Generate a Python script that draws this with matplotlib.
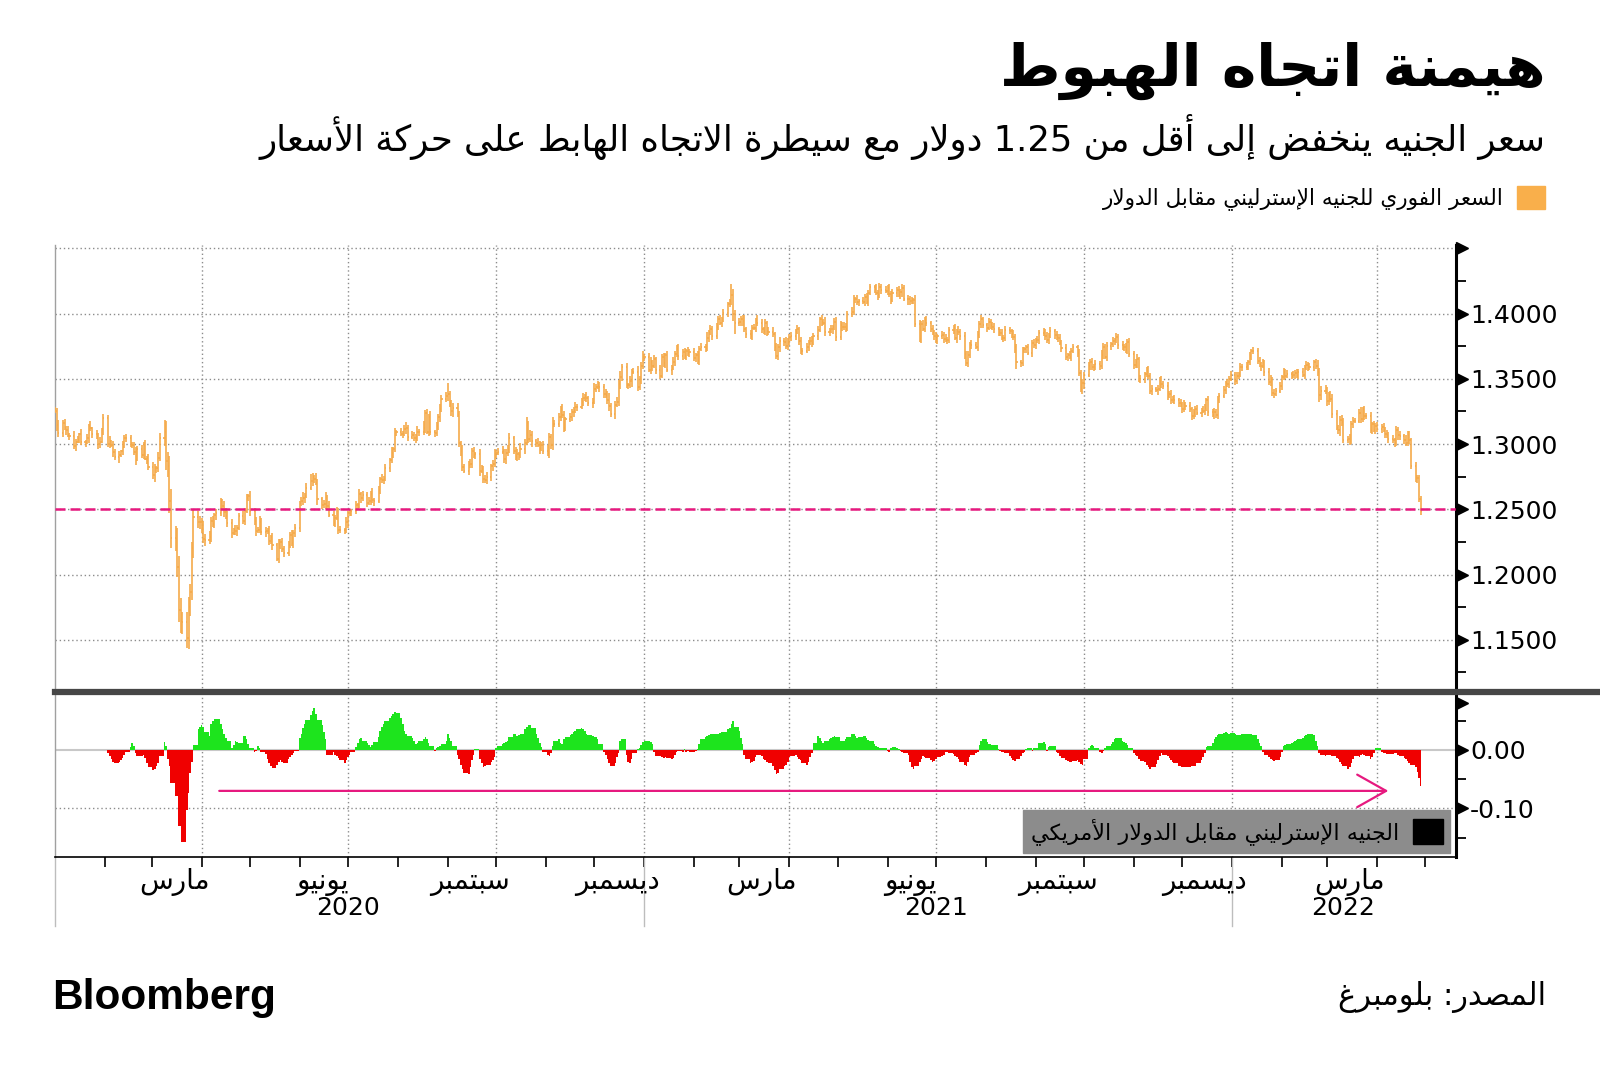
import re
import numpy as np
import pandas as pd
import matplotlib
matplotlib.use('Agg')
import matplotlib.pyplot as plt
import matplotlib.dates as mdates
import matplotlib.transforms as mtransforms
from matplotlib.collections import LineCollection
from matplotlib.lines import Line2D
from matplotlib.patches import Patch
from matplotlib.ticker import FormatStrFormatter

plt.rcParams['font.family'] = ['DejaVu Sans']
plt.rcParams['axes.unicode_minus'] = False

# ------------------------------------------------------------------ texts
TITLE = 'هيمنة اتجاه الهبوط'
SUBTITLE = 'سعر الجنيه ينخفض إلى أقل من 1.25 دولار مع سيطرة الاتجاه الهابط على حركة الأسعار'
LEGEND_TOP = 'السعر الفوري للجنيه الإسترليني مقابل الدولار'
LEGEND_BOTTOM = 'الجنيه الإسترليني مقابل الدولار الأمريكي'
SOURCE = 'المصدر: بلومبرغ'
BRAND = 'Bloomberg'

MONTH_LABEL_DATES = ['2020-03-15', '2020-06-15', '2020-09-15', '2020-12-15',
                     '2021-03-15', '2021-06-15', '2021-09-15', '2021-12-15', '2022-03-15']
MONTH_LABELS = ['مارس', 'يونيو', 'سبتمبر', 'ديسمبر',
                'مارس', 'يونيو', 'سبتمبر', 'ديسمبر', 'مارس']
YEAR_LABEL_DATES = ['2020-07-01', '2021-07-01', '2022-03-11']
YEAR_LABELS = ['2020', '2021', '2022']

PRICE_TICKS = [1.15, 1.20, 1.25, 1.30, 1.35, 1.40]
HIST_TICKS = [0.00, -0.10]
THRESHOLD = 1.25

# ------------------------------------------------------------------ data
# daily GBP/USD closes, in pips above 1.0000 (business days from 2020-01-01)
CLOSE_PIPS = [
    # 2020 Jan
    3255, 3143, 3085, 3161, 3125, 3107, 3066, 3062, 2985, 3018, 3035, 3075, 3013,
    3008, 3048, 3136, 3122, 3075, 3061, 3000, 3015, 3112, 3203,
    # Feb
    3000, 3020, 2990, 2940, 2898, 2917, 2945, 2980, 3046, 3047,
    3004, 2989, 2938, 2880, 2962, 2916, 2994, 2885, 2892, 2823,
    # Mar
    2760, 2815, 2815, 2890, 3045, 3095, 2870, 2830, 2565, 2280, 2270,
    2060, 1730, 1645, 1635, 1510, 1755, 1865, 2200, 2440, 2400, 2405,
    # Apr
    2360, 2270, 2265, 2290, 2410, 2385, 2455, 2470, 2560, 2525, 2480,
    2445, 2395, 2320, 2340, 2335, 2360, 2445, 2410, 2490, 2590, 2600,
    # May
    2490, 2410, 2335, 2345, 2405, 2325, 2335, 2330, 2255, 2285, 2225,
    2120, 2235, 2250, 2195, 2165, 2230, 2305, 2240, 2320, 2355,
    # Jun
    2545, 2565, 2590, 2605, 2665, 2720, 2745, 2735, 2705, 2575, 2530,
    2540, 2590, 2525, 2460, 2395, 2435, 2490, 2340, 2340, 2340, 2400,
    # Jul
    2470, 2475, 2485, 2530, 2530, 2615, 2590, 2610, 2550, 2565, 2620, 2570,
    2565, 2645, 2730, 2725, 2735, 2815, 2875, 2935, 2960, 3090, 3090,
    # Aug
    3080, 3080, 3115, 3125, 3055, 3070, 3050, 3045, 3095, 3090, 3125,
    3240, 3095, 3210, 3090, 3085, 3140, 3210, 3265, 3345, 3370,
    # Sep
    3380, 3315, 3255, 3275, 3225, 3005, 2945, 2825, 2795, 2840, 2845,
    2950, 2915, 2920, 2795, 2810, 2730, 2725, 2745, 2830, 2845, 2920,
    # Oct
    2935, 2940, 2945, 2885, 2930, 2960, 3045, 2950, 2900, 2920, 2915,
    2965, 3010, 3160, 3035, 3070, 3020, 3005, 2995, 2965, 2995, 2950,
    # Nov
    2930, 3055, 2995, 3155, 3150, 3205, 3270, 3220, 3120, 3190, 3205,
    3245, 3255, 3280, 3285, 3325, 3350, 3365, 3350, 3315, 3325,
    # Dec
    3425, 3440, 3445, 3440, 3385, 3375, 3340, 3295, 3230, 3300, 3320, 3460,
    3510, 3590, 3450, 3450, 3480, 3555, 3555, 3435, 3500, 3595, 3670,
    # 2021 Jan
    3670, 3570, 3625, 3600, 3650, 3565, 3525, 3670, 3620, 3680, 3570,
    3585, 3630, 3690, 3730, 3675, 3705, 3675, 3710, 3695, 3705,
    # Feb
    3660, 3680, 3635, 3730, 3745, 3735, 3815, 3855, 3885, 3825,
    3900, 3960, 3930, 3955, 4005, 4070, 4095, 4145, 3995, 3925,
    # Mar
    3935, 3960, 3945, 3880, 3840, 3825, 3890, 3890, 3945, 3925, 3880, 3865,
    3925, 3865, 3855, 3840, 3745, 3675, 3745, 3790, 3780, 3750, 3780,
    # Apr
    3820, 3830, 3860, 3880, 3790, 3710, 3715, 3745, 3775, 3790, 3775,
    3830, 3875, 3955, 3935, 3930, 3860, 3870, 3885, 3895, 3935, 3820,
    # May
    3915, 3895, 3895, 3885, 4000, 4010, 4110, 4110, 4085, 4095, 4090,
    4130, 4090, 4160, 4200, 4190, 4160, 4140, 4205, 4180, 4175,
    # Jun
    4195, 4150, 4105, 4155, 4180, 4145, 4165, 4195, 4115, 4115, 4095,
    4100, 4100, 3920, 3805, 3920, 3885, 3950, 3925, 3885, 3855, 3830,
    # Jul
    3795, 3825, 3835, 3805, 3800, 3795, 3870, 3890, 3815, 3865, 3855,
    3830, 3690, 3620, 3680, 3765, 3760, 3745, 3835, 3920, 3955, 3910,
    # Aug
    3890, 3935, 3915, 3895, 3880, 3860, 3850, 3815, 3810, 3875, 3865,
    3845, 3820, 3740, 3625, 3620, 3715, 3725, 3740, 3700, 3775, 3755,
    # Sep
    3795, 3795, 3850, 3860, 3825, 3795, 3830, 3865, 3835, 3820, 3810,
    3775, 3735, 3665, 3680, 3670, 3715, 3740, 3700, 3545, 3425, 3470,
    # Oct
    3530, 3600, 3630, 3590, 3590, 3615, 3595, 3680, 3745, 3670, 3750,
    3765, 3790, 3795, 3820, 3760, 3740, 3745, 3720, 3785, 3690,
    # Nov
    3605, 3625, 3650, 3495, 3500, 3535, 3560, 3525, 3405, 3420, 3415,
    3425, 3490, 3460, 3445, 3370, 3385, 3335, 3345, 3335, 3315, 3305,
    # Dec
    3265, 3305, 3290, 3265, 3215, 3235, 3270, 3240, 3255, 3255, 3275, 3335,
    3245, 3225, 3245, 3220, 3335, 3370, 3415, 3465, 3460, 3500, 3530,
    # 2022 Jan
    3480, 3525, 3535, 3590, 3590, 3595, 3625, 3675, 3710, 3715, 3640,
    3610, 3600, 3625, 3555, 3475, 3490, 3390, 3385, 3410, 3445,
    # Feb
    3510, 3555, 3525, 3535, 3525, 3530, 3545, 3525, 3555, 3530,
    3585, 3605, 3590, 3590, 3625, 3595, 3550, 3375, 3405, 3410,
    # Mar
    3330, 3375, 3345, 3230, 3125, 3105, 3185, 3170, 3030, 3035, 3020, 3155,
    3180, 3180, 3240, 3190, 3265, 3215, 3215, 3105, 3150, 3110, 3140,
    # Apr
    3115, 3130, 3110, 3080, 3070, 3040, 3030, 3005, 3110, 3070,
    3060, 3030, 3005, 3070, 3030, 2835, 2740, 2740, 2575, 2490,
]

# daily wick above max(open, close) and below min(open, close), in 10-pip units (one digit per day)
UP_WICK_10PIPS = """
324
23132 42314 23241 32413 24132 31423 21342 32423 43254 98789
99897 87656 54354 43423 32434 32423 42324 23243 32423 24232
32423 23424 53243 23424 32323 24232 32423 23242 32423 24232
32342 32342 52324 23243 39324 43252 34232 43234 23423 42334
23424 35243 24323 43253 32432 32342 34232 34243 24352 34352
32423 42342 34232 42323 24234 23232 32323 24232 32323 22843
32342 32324 32323 42323 24323 23232 32342 32324 23234 32432
43232 32323 24232 32323 23232 32324 32323 23232 32423 23243
32323 23232 23223 22323 22323 23223 23232 32323 23232 32323
23232 32323 24323 23232 32323 23423 23423 23232 32323 23232
32323 24323 23232 32323 23232 32323 23232 34232 32323 23232
32323 23534 43234 32343 34232 34232 32323 23232 32323 24332
3223
"""
DN_WICK_10PIPS = """
243
32413 24132 31423 24314 23142 42313 32241 23142 35432 67898
98999 78767 45435 34234 23423 42342 23234 34232 42324 23423
23243 32342 24324 32432 23232 32423 23243 32324 23232 32423
23243 23423 24232 32342 24345 23432 32323 42323 34232 23423
32342 42324 32423 24342 23232 23423 23232 42324 32342 42343
23242 32423 23423 32342 42323 32323 23232 32323 23232 32358
23423 23232 32342 23234 32323 32323 23232 32323 32423 23232
32323 23232 32423 23232 32342 53232 23232 32323 23232 32423
42323 23232 32323 32232 23245 32232 32323 23232 32323 23232
32345 23232 32323 32323 23232 32423 32323 24232 32323 32323
23232 32323 23232 23232 32323 23232 32423 23232 23232 32323
23232 32354 24323 23432 23232 23232 23232 32323 23243 32233
3423
"""

# lower-panel histogram, in thousandths (business days from 2020-02-03)
HIST_MILLI = [
    # 2020 Feb
    -5, -10, -15, -20, -22, -20, -17, -13, -8, -3, 5, 11, 6, -6, -10, -10, -8, -14, -22, -30,
    # Mar
    -35, -32, -28, -22, -10, 14, 6, -15, -27, -56, -79, -79, -130, -130, -158,
    -103, -73, -40, -20, 8, 35, 40,
    # Apr
    42, 40, 30, 24, 44, 50, 53, 53, 45, 35, 27, 20, 15, 4, 8, 15, 14, 12, 24, 24, 18, 10,
    # May
    4, -3, -2, 6, 4, -3, -7, -15, -22, -28, -31, -25, -20, -18, -20, -23, -15, -12, -8, -5, -2,
    # Jun
    20, 28, 38, 45, 52, 60, 66, 71, 62, 52, 42, 30, 18, -8, -8, -3, -8, -10, -14, -18, -23, -18,
    # Jul
    -12, -8, -4, 5, 12, 18, 20, 15, 12, 8, 5, 8, 14, 22, 33, 40, 45, 50, 55, 58, 62, 65, 63,
    # Aug
    55, 45, 33, 28, 24, 21, 15, 10, 12, 16, 18, 22, 18, 12, 6, -1, 4, 5, 6, 10, 15,
    # Sep
    27, 21, 15, 6, -8, -15, -25, -33, -40, -42, -30, -18, -8, 2, -15, -22, -29, -28, -25, -20, -18, -12,
    # Oct
    3, 6, 10, 11, 13, 16, 22, 28, 27, 24, 25, 28, 35, 40, 43, 42, 38, 28, 20, 12, 5, -4,
    # Nov
    -8, -10, -5, 6, 15, 18, 12, 10, 18, 22, 25, 27, 30, 33, 36, 38, 36, 32, 28, 26, 24,
    # Dec
    22, 22, 18, 10, -3, -8, -15, -22, -27, -22, -12, -5, 15, 18, -8, -20, -22, -15, -5, 2, 4, 8, 14,
    # 2021 Jan
    16, 16, 14, 10, -4, -10, -10, -12, -13, -12, -14, -16, -14, -8, -3, -2, -3, 2, -3, -2, -4,
    # Feb
    -3, -2, 2, 10, 18, 22, 24, 26, 27, 28, 28, 28, 29, 30, 31, 35, 38, 44, 49, 40,
    # Mar
    33, 20, 10, -8, -15, -22, -20, -19, -12, -8, -10, -15, -18, -20, -22, -28, -35, -42, -40, -33, -28, -25, -20,
    # Apr
    -12, -10, -8, -12, -16, -18, -22, -25, -20, -12, -5, 12, 24, 20, 15, 12, 15, 18, 21, 22, 24, 22,
    # May
    16, 15, 15, 18, 22, 28, 27, 24, 21, 22, 24, 23, 20, 17, 15, 10, 7, 5, 4, 4, 3,
    # Jun
    -2, -3, 3, 5, 3, 1, -2, -3, -5, -8, -20, -30, -33, -28, -20, -15, -10, -12, -14, -18, -20, -19,
    # Jul
    -15, -12, -10, -8, -4, -3, -5, -7, -10, -12, -15, -20, -25, -27, -20, -12, -8, -6, -3, 8, 15, 18,
    # Aug
    14, 10, 10, 8, 8, 2, -2, -3, -3, -6, -10, -14, -17, -19, -16, -10, -6, -3, 2, 3, -1, 4,
    # Sep
    3, 4, 12, 14, 10, -1, 5, 7, 6, -3, -6, -10, -14, -18, -19, -20, -21, -19, -18, -20, -24, -25,
    # Oct
    -15, 4, 7, 8, 6, 4, -3, -5, -2, 3, 6, 10, 14, 18, 20, 21, 15, 13, 11, 8, 4,
    # Nov
    -5, -8, -11, -16, -19, -20, -25, -30, -33, -30, -24, -18, -10, -6, -8, -10, -14, -17, -20, -23, -27, -28,
    # Dec
    -30, -30, -30, -30, -28, -28, -27, -22, -18, -12, -5, 5, 6, 12, 18, 22, 25, 27, 29, 30, 29, 28, 29,
    # 2022 Jan
    27, 25, 26, 26, 28, 27, 28, 28, 27, 26, 18, 12, 7, -4, -8, -12, -15, -17, -19, -17, -12,
    # Feb
    -4, 6, 8, 10, 12, 13, 15, 17, 18, 21, 23, 25, 27, 28, 25, 15, 6, -6, -8, -10,
    # Mar
    -8, -9, -8, -10, -14, -16, -20, -24, -27, -33, -29, -22, -15, -10, -12, -8, -7, -9, -11, -16, -12, -6, 3,
    # Apr
    4, -3, -5, -6, -7, -7, -7, -5, -6, -9, -10, -13, -15, -19, -22, -26, -30, -38, -48, -62,
]

# ------------------------------------------------------------------ Arabic shaping (presentation forms + visual order)
_FORM_SPEC = [('\u0621', 0xFE80, 1), ('\u0622', 0xFE81, 2), ('\u0623', 0xFE83, 2), ('\u0624', 0xFE85, 2),
              ('\u0625', 0xFE87, 2), ('\u0626', 0xFE89, 4), ('\u0627', 0xFE8D, 2), ('\u0628', 0xFE8F, 4),
              ('\u0629', 0xFE93, 2), ('\u062A', 0xFE95, 4), ('\u062B', 0xFE99, 4), ('\u062C', 0xFE9D, 4),
              ('\u062D', 0xFEA1, 4), ('\u062E', 0xFEA5, 4), ('\u062F', 0xFEA9, 2), ('\u0630', 0xFEAB, 2),
              ('\u0631', 0xFEAD, 2), ('\u0632', 0xFEAF, 2), ('\u0633', 0xFEB1, 4), ('\u0634', 0xFEB5, 4),
              ('\u0635', 0xFEB9, 4), ('\u0636', 0xFEBD, 4), ('\u0637', 0xFEC1, 4), ('\u0638', 0xFEC5, 4),
              ('\u0639', 0xFEC9, 4), ('\u063A', 0xFECD, 4), ('\u0641', 0xFED1, 4), ('\u0642', 0xFED5, 4),
              ('\u0643', 0xFED9, 4), ('\u0644', 0xFEDD, 4), ('\u0645', 0xFEE1, 4), ('\u0646', 0xFEE5, 4),
              ('\u0647', 0xFEE9, 4), ('\u0648', 0xFEED, 2), ('\u0649', 0xFEEF, 2), ('\u064A', 0xFEF1, 4)]
_FORMS = {c: (b, k) for c, b, k in _FORM_SPEC}
_LAMALEF = {'\u0622': 0xFEF5, '\u0623': 0xFEF7, '\u0625': 0xFEF9, '\u0627': 0xFEFB}


def _shape(s):
    out, i, n = [], 0, len(s)
    while i < n:
        c = s[i]
        if c not in _FORMS:
            out.append(c)
            i += 1
            continue
        p = s[i - 1] if i > 0 else ''
        jp = p in _FORMS and _FORMS[p][1] == 4
        if c == '\u0644' and i + 1 < n and s[i + 1] in _LAMALEF:
            out.append(chr(_LAMALEF[s[i + 1]] + (1 if jp else 0)))
            i += 2
            continue
        base, k = _FORMS[c]
        if k == 1:
            jp = False
        nx = s[i + 1] if i + 1 < n else ''
        jn = k == 4 and nx in _FORMS and _FORMS[nx][1] >= 2
        idx = 3 if (jp and jn) else 1 if jp else 2 if jn else 0
        out.append(chr(base + idx))
        i += 1
    return ''.join(out)


def ar(s):
    t = _shape(s)
    parts = re.findall(r'[0-9A-Za-z]+(?:[.,][0-9A-Za-z]+)*|.', t)
    return ''.join(reversed(parts))


# ------------------------------------------------------------------ prepare series
close = 1.0 + np.array(CLOSE_PIPS, dtype=float) / 1e4
up = np.array([int(ch) for ch in UP_WICK_10PIPS if ch.isdigit()], dtype=float) * 10 / 1e4
dn = np.array([int(ch) for ch in DN_WICK_10PIPS if ch.isdigit()], dtype=float) * 10 / 1e4
n = min(len(close), len(up), len(dn))
close, up, dn = close[:n], up[:n], dn[:n]
dates = pd.bdate_range('2020-01-01', periods=n)
x = mdates.date2num(dates)
opens = np.r_[close[0], close[:-1]]
highs = np.maximum(opens, close) + up
lows = np.minimum(opens, close) - dn

hist = np.array(HIST_MILLI, dtype=float) / 1000.0
hx = mdates.date2num(pd.bdate_range('2020-02-03', periods=len(hist)))

# ------------------------------------------------------------------ figure
W, H = 1600, 1080
fig = plt.figure(figsize=(16, 10.8), dpi=100)
fig.patch.set_facecolor('white')

L, R = 55, 1456
T1, B1, B2 = 245, 692, 857
ax1 = fig.add_axes([L / W, 1 - B1 / H, (R - L) / W, (B1 - T1) / H])
ax2 = fig.add_axes([L / W, 1 - B2 / H, (R - L) / W, (B2 - B1) / H])

ORANGE = '#F5AA4A'
GREEN = '#1DE41D'
RED = '#F00000'
PINK = '#E6197F'
GRIDC = '#8c8c8c'

xmin, xmax = mdates.date2num(pd.Timestamp('2020-01-01')), mdates.date2num(pd.Timestamp('2022-05-20'))
quarters = mdates.date2num(pd.date_range('2020-04-01', '2022-04-01', freq='QS'))
months = mdates.date2num(pd.date_range('2020-02-01', '2022-05-01', freq='MS'))

# ---- top panel: OHLC bars
segs = []
for xi, o, h, l, c in zip(x, opens, highs, lows, close):
    segs.append([(xi, l), (xi, h)])
    segs.append([(xi - 0.7, o), (xi, o)])
    segs.append([(xi, c), (xi + 0.7, c)])
ax1.add_collection(LineCollection(segs, colors=ORANGE, linewidths=1.2, zorder=3))
ax1.set_xlim(xmin, xmax)
ax1.set_ylim(1.110, 1.4525)
for q in quarters:
    ax1.axvline(q, color=GRIDC, lw=1.0, ls=(0, (1, 2)), zorder=1)
for yv in PRICE_TICKS + [1.45]:
    ax1.axhline(yv, color=GRIDC, lw=1.0, ls=(0, (1, 2)), zorder=1)
ax1.axhline(THRESHOLD, color=PINK, lw=1.8, ls=(0, (4, 2)), zorder=4)

# ---- bottom panel: histogram
widths = np.r_[np.diff(hx), 1.0]
bar_colors = [GREEN if v >= 0 else RED for v in hist]
ax2.bar(hx - 0.5, hist, width=widths, align='edge', color=bar_colors, linewidth=0, zorder=3)
ax2.axhline(0, color='#c8c8c8', lw=1.5, zorder=2)
ax2.axhline(-0.10, color=GRIDC, lw=1.0, ls=(0, (1, 2)), zorder=1)
for q in quarters:
    ax2.axvline(q, color=GRIDC, lw=1.0, ls=(0, (1, 2)), zorder=1)
ax2.set_xlim(xmin, xmax)
ax2.set_ylim(-0.183, 0.099)
ax2.annotate('', xy=(mdates.date2num(pd.Timestamp('2022-04-08')), -0.07),
             xytext=(mdates.date2num(pd.Timestamp('2020-04-12')), -0.07),
             arrowprops=dict(arrowstyle='->,head_length=0.8,head_width=0.45', color=PINK, lw=1.6,
                             mutation_scale=26, shrinkA=0, shrinkB=0), zorder=5)

# ---- spines and ticks
for ax in (ax1, ax2):
    ax.set_facecolor('white')
    ax.spines['top'].set_visible(False)
    ax.spines['left'].set_color('#a0a0a0')
    ax.spines['left'].set_linewidth(1.0)
    ax.spines['right'].set_color('black')
    ax.spines['right'].set_linewidth(2.2)
    ax.yaxis.set_ticks_position('right')
ax1.spines['bottom'].set_visible(False)
ax2.spines['bottom'].set_color('black')
ax2.spines['bottom'].set_linewidth(1.2)

ax1.set_yticks(PRICE_TICKS)
ax1.set_yticks([1.125, 1.175, 1.225, 1.275, 1.325, 1.375, 1.425], minor=True)
ax1.yaxis.set_major_formatter(FormatStrFormatter('%.4f'))
ax1.set_xticks([])
ax2.set_yticks(HIST_TICKS)
ax2.set_yticks([0.05, -0.05, -0.15], minor=True)
ax2.yaxis.set_major_formatter(FormatStrFormatter('%.2f'))
ax2.set_xticks(months)
ax2.set_xticklabels([])
for ax in (ax1, ax2):
    ax.tick_params(axis='y', which='major', length=0, pad=10, labelsize=18, labelcolor='black')
    ax.tick_params(axis='y', which='minor', length=7, width=1.3, color='black', direction='out')
ax2.tick_params(axis='x', which='major', length=7, width=1.2, color='black', direction='out')

# arrow-shaped major tick markers
for ax, ys in ((ax1, PRICE_TICKS + [1.45]), (ax2, HIST_TICKS + [0.08])):
    tr = mtransforms.offset_copy(mtransforms.blended_transform_factory(ax.transAxes, ax.transData),
                                 fig=fig, x=6, y=0, units='dots')
    ax.plot([1.0] * len(ys), ys, ls='none', marker='>', ms=8, color='black',
            transform=tr, clip_on=False, zorder=6)

# separator bar between panels
fig.add_artist(Line2D([L / W, 1.0], [1 - B1 / H, 1 - B1 / H], color='#464646', lw=4.5, zorder=10))

# x labels
lab_tr = mtransforms.blended_transform_factory(ax2.transData, ax2.transAxes)
for d, t in zip(MONTH_LABEL_DATES, MONTH_LABELS):
    ax2.text(mdates.date2num(pd.Timestamp(d)), -0.15, ar(t), transform=lab_tr,
             ha='center', va='center', fontsize=20, color='black')
for d, t in zip(YEAR_LABEL_DATES, YEAR_LABELS):
    ax2.text(mdates.date2num(pd.Timestamp(d)), -0.31, t, transform=lab_tr,
             ha='center', va='center', fontsize=18, color='black')
for d in ['2020-01-01', '2021-01-01', '2022-01-01']:
    xd = mdates.date2num(pd.Timestamp(d))
    ax2.plot([xd, xd], [0, -0.42], transform=lab_tr, color='#bdbdbd', lw=1.0, clip_on=False)

# legends
ax2.legend(handles=[Patch(facecolor='black', edgecolor='black')], labels=[ar(LEGEND_BOTTOM)],
           loc='lower right', bbox_to_anchor=(0.996, 0.025), markerfirst=False,
           fontsize=16, handlelength=1.35, handleheight=1.35, handletextpad=0.6,
           frameon=True, fancybox=False, facecolor='#8c8c8c', edgecolor='#8c8c8c',
           framealpha=1.0, borderpad=0.35, borderaxespad=0)
fig.legend(handles=[Patch(facecolor='#F9AF4B', edgecolor='#F9AF4B')], labels=[ar(LEGEND_TOP)],
           loc='center right', bbox_to_anchor=(1545 / W, 1 - 198 / H), markerfirst=False,
           fontsize=15.5, handlelength=1.3, handleheight=1.3, handletextpad=0.6,
           frameon=False, borderpad=0, borderaxespad=0)

# titles and footer
fig.text(1546 / W, 1 - 71 / H, ar(TITLE), ha='right', va='center', fontsize=42, fontweight='bold')
fig.text(1546 / W, 1 - 137 / H, ar(SUBTITLE), ha='right', va='center', fontsize=25.6)
fig.text(1546 / W, 1 - 997 / H, ar(SOURCE), ha='right', va='center', fontsize=22)
fig.text(52 / W, 1 - 998 / H, BRAND, ha='left', va='center', fontsize=30.5, fontweight='bold',
         family=['Liberation Sans', 'DejaVu Sans'])

fig.savefig('out.png', dpi=100, facecolor='white')
